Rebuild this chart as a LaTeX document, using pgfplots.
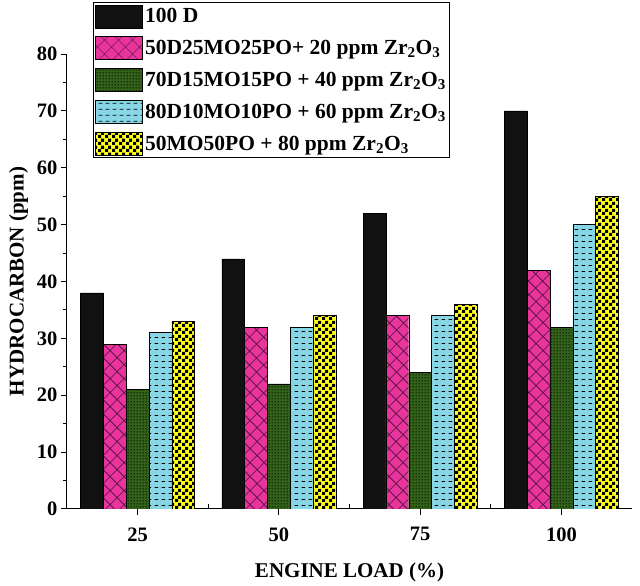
\documentclass[border=0pt]{standalone}
\usepackage{fontspec}
\setmainfont{Liberation Serif}
\usepackage{pgfplots}
\pgfplotsset{compat=1.18}
\usetikzlibrary{patterns,patterns.meta}
\definecolor{cblack}{HTML}{111111}
\definecolor{cpink}{HTML}{E8349B}
\definecolor{cpurple}{HTML}{4A1040}
\definecolor{cgreen}{HTML}{33631A}
\definecolor{ccyan}{HTML}{86D6E6}
\definecolor{cyellow}{HTML}{FFFF1A}
\tikzdeclarepattern{
  name=mydash, type=uncolored,
  bounding box={(0,0) and (7pt,6pt)},
  tile size={(7pt,6pt)},
  code={\draw[line width=0.9pt] (0.8pt,3pt) -- (4.8pt,3pt);}
}
\tikzdeclarepattern{
  name=mychecker, type=uncolored,
  bounding box={(0,0) and (7pt,7pt)},
  tile size={(7pt,7pt)},
  code={\fill (0,0) rectangle (3.5pt,3.5pt); \fill (3.5pt,3.5pt) rectangle (7pt,7pt);}
}
\tikzdeclarepattern{
  name=mydots, type=uncolored,
  bounding box={(0,0) and (2.6pt,2.6pt)},
  tile size={(2.6pt,2.6pt)},
  code={\fill (1.3pt,1.3pt) circle (0.75pt);}
}
\pgfplotstableread{
x a b c d e
0 38 29 21 31 33
1 44 32 22 32 34
2 52 34 24 34 36
3 70 42 32 50 55
}\datatab
\begin{document}
\begin{tikzpicture}
\begin{axis}[
  scale only axis,
  width=565pt, height=455pt,
  xmin=-0.5, xmax=3.5,
  ymin=0, ymax=80,
  ybar=0pt, bar width=22.8pt,
  axis lines*=left,
  axis line style={line width=1pt},
  tick style={line width=1pt, color=black},
  tick align=outside,
  major tick length=6pt,
  minor tick length=4pt,
  xtick={0,1,2,3},
  xticklabels={25,50,75,100},
  extra x ticks={-0.5,0.5,1.5,2.5},
  extra x tick labels={},
  extra x tick style={tick align=inside, major tick length=5pt},
  ytick={0,10,...,80},
  minor y tick num=1,
  /pgf/number format/assume math mode=true,
  tick label style={font=\fontsize{20.5}{22}\selectfont\bfseries},
  xticklabel style={yshift=-9pt},
  label style={font=\fontsize{21}{24}\selectfont\bfseries},
  xlabel={ENGINE LOAD (\%)},
  ylabel={HYDROCARBON (ppm)},
  xlabel style={yshift=-9pt},
  ylabel style={yshift=2pt},
  legend image code/.code={\draw[#1] (0pt,-11.5pt) rectangle (47pt,11.5pt);},
  legend cell align=left,
  legend style={at={(0.046,1.114)}, anchor=north west,
    font=\fontsize{21.5}{24}\selectfont\bfseries,
    draw=black, line width=0.8pt, inner sep=2pt, row sep=8pt,
    /tikz/every even column/.append style={column sep=3pt}},
]
\addplot[draw=black, fill=cblack] table[x=x,y=a]{\datatab};
\addplot[draw=black, fill=cpink, postaction={pattern color=cpurple, pattern={Hatch[angle=45,distance=10.5pt,line width=0.6pt]}}] table[x=x,y=b]{\datatab};
\addplot[draw=black, fill=cgreen, postaction={pattern color=black, pattern=mydots}] table[x=x,y=c]{\datatab};
\addplot[draw=black, fill=ccyan, postaction={pattern color=black, pattern=mydash}] table[x=x,y=d]{\datatab};
\addplot[draw=black, fill=cyellow, postaction={pattern color=black, pattern=mychecker}] table[x=x,y=e]{\datatab};
\legend{100 D,
  50D25MO25PO+ 20 ppm Zr\textsubscript{2}O\textsubscript{3},
  70D15MO15PO + 40 ppm Zr\textsubscript{2}O\textsubscript{3},
  80D10MO10PO + 60 ppm Zr\textsubscript{2}O\textsubscript{3},
  50MO50PO + 80 ppm Zr\textsubscript{2}O\textsubscript{3}}
\end{axis}
\path[use as bounding box] (-67pt,-77pt) rectangle (573pt,509pt);
\end{tikzpicture}
\end{document}
